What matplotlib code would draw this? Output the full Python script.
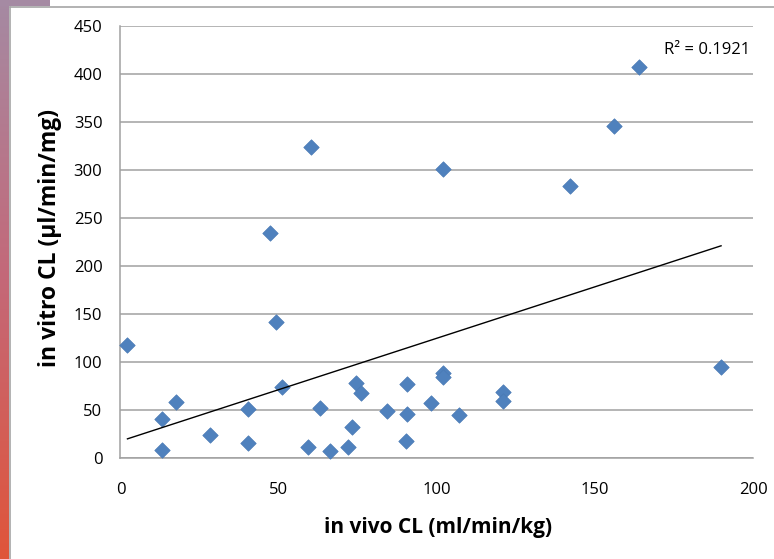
import numpy as np
import matplotlib
matplotlib.use("Agg")
import matplotlib.pyplot as plt
from matplotlib.lines import Line2D
from matplotlib.patches import Rectangle
from matplotlib.colors import LinearSegmentedColormap

plt.rcParams['font.family'] = ['Open Sans', 'DejaVu Sans']

# Data
in_vivo_cl = [2.2, 13.2, 17.4, 13.2, 28.3, 40.3, 40.3, 47.2, 49.3, 51.2,
              59.4, 60.1, 63.1, 66.1, 71.9, 73.3, 74.4, 76.2, 84.2, 90.7,
              90.7, 90.2, 98.1, 101.9, 102.1, 102.1, 107.1, 121.1, 121.1,
              142.2, 156.1, 164.0, 189.9]
in_vitro_cl = [117.7, 40.6, 58.7, 8.3, 24.0, 50.7, 16.0, 234.0, 141.7, 74.3,
               11.8, 324.0, 51.7, 7.3, 11.8, 32.0, 77.8, 67.4, 49.0, 77.0,
               45.8, 18.0, 57.0, 301.0, 88.2, 84.7, 44.8, 69.0, 59.7,
               283.3, 345.8, 407.6, 94.5]
r2_label = "R² = 0.1921"
x_ticks = [0, 50, 100, 150, 200]
y_ticks = [0, 50, 100, 150, 200, 250, 300, 350, 400, 450]
x_title = "in vivo CL (ml/min/kg)"
y_title = "in vitro CL (µl/min/mg)"

W, H = 774, 559
fig = plt.figure(figsize=(W / 100, H / 100), dpi=100)
fig.patch.set_facecolor('white')

# Left decorative gradient bar
bar_ax = fig.add_axes([0, 0, 9 / W, 1])
grad = np.linspace(0, 1, 256).reshape(-1, 1)
cmap = LinearSegmentedColormap.from_list('g', ['#a58aa3', '#c46878', '#e0553a'])
bar_ax.imshow(grad, aspect='auto', cmap=cmap, extent=[0, 1, 0, 1], origin='upper')
bar_ax.axis('off')
fig.patches.append(Rectangle((0, 1 - 6 / H), 50 / W, 6 / H, transform=fig.transFigure,
                             facecolor='#a58aa3', edgecolor='none', zorder=5))
# Chart frame
fig.lines.append(Line2D([9.5 / W, 1], [1 - 7 / H, 1 - 7 / H], transform=fig.transFigure,
                        color='#a6a6a6', lw=1.2))
fig.lines.append(Line2D([9.5 / W, 9.5 / W], [0, 1 - 7 / H], transform=fig.transFigure,
                        color='#a6a6a6', lw=1.2))

ax = fig.add_axes([120.5 / W, (H - 458) / H, (753 - 120.5) / W, (458 - 26) / H])
ax.set_xlim(0, 200)
ax.set_ylim(0, 450)
ax.set_xticks(x_ticks)
ax.set_yticks(y_ticks)
ax.tick_params(axis='both', length=0, labelsize=12, colors='black')
ax.tick_params(axis='y', pad=13)
ax.tick_params(axis='x', pad=17)
ax.yaxis.grid(True, color='#a0a0a0', lw=1.1)
ax.set_axisbelow(True)
for s in ['top', 'right']:
    ax.spines[s].set_visible(False)
for s in ['left', 'bottom']:
    ax.spines[s].set_color('#a0a0a0')
    ax.spines[s].set_linewidth(1.1)

ax.scatter(in_vivo_cl, in_vitro_cl, marker='D', s=62, color='#4f81bd',
           edgecolors='#4a7ab5', linewidths=0.5, zorder=3, clip_on=False)

xa = np.array(in_vivo_cl)
ya = np.array(in_vitro_cl)
slope, intercept = np.polyfit(xa, ya, 1)
xs = np.array([xa.min(), xa.max()])
ax.plot(xs, slope * xs + intercept, color='black', lw=1.0, zorder=4)

ax.text(172, 425, r2_label, fontsize=12, ha='left', va='center')

fig.text(438 / W, 1 - 528 / H, x_title, fontsize=15, fontweight='bold',
         ha='center', va='center')
fig.text(50 / W, 1 - 238 / H, y_title, fontsize=16.5, fontweight='bold',
         ha='center', va='center', rotation=90)

fig.savefig('out.png', dpi=100)
